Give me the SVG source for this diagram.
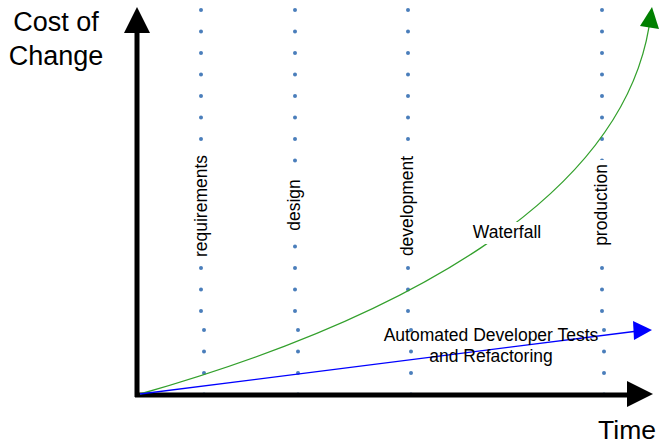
<svg xmlns="http://www.w3.org/2000/svg" width="660" height="445" viewBox="0 0 660 445">
<style>
text{font-family:"Liberation Sans",Arial,sans-serif;fill:#000}
.big{font-size:27px}
.lbl{font-size:17.5px}
.dots{stroke:#4a7ebb;stroke-width:4;stroke-linecap:round;stroke-dasharray:0 21.5;fill:none}
.bg{fill:#fff}
.axis{stroke:#000;stroke-width:5;fill:none}
</style>
<rect width="660" height="445" fill="#fff"/>
<g id="phase-lines">
<line class="dots" x1="201" y1="10" x2="201" y2="312"/>
<line class="dots" x1="204" y1="330" x2="204" y2="395"/>
<line class="dots" x1="295" y1="10" x2="295" y2="312"/>
<line class="dots" x1="298" y1="330" x2="298" y2="395"/>
<line class="dots" x1="408" y1="10" x2="408" y2="312"/>
<line class="dots" x1="411" y1="330" x2="411" y2="395"/>
<line class="dots" x1="602" y1="10" x2="602" y2="312"/>
<line class="dots" x1="604" y1="330" x2="604" y2="395"/>
</g>
<g id="axes">
<line class="axis" x1="137" y1="397" x2="137" y2="30"/>
<polygon points="124,33 150,33 137,7" fill="#000"/>
<line class="axis" x1="135" y1="395" x2="630" y2="395"/>
<polygon points="627,381 627,407 653,394" fill="#000"/>
</g>
<g id="connectors">
<path d="M140,394 C400,320 620,200 649,27" fill="none" stroke="#33a02c" stroke-width="1.3"/>
<polygon points="652,7 640,26 659,29" fill="#008000"/>
<line x1="140" y1="394" x2="634" y2="331.5" stroke="#0000ff" stroke-width="1.3"/>
<polygon points="652,330 633,321 634,340" fill="#0000ff"/>
</g>
<g id="label-cost">
<text class="big" x="56" y="31" text-anchor="middle">Cost of</text>
<text class="big" x="56" y="65" text-anchor="middle">Change</text>
</g>
<g id="label-time">
<text x="656" y="439" text-anchor="end" style="font-size:26.5px">Time</text>
</g>
<g id="phase-requirements">
<rect class="bg" x="194" y="153" width="16" height="106"/>
<text class="lbl" transform="translate(207,206) rotate(-90)" text-anchor="middle">requirements</text>
</g>
<g id="phase-design">
<rect class="bg" x="287" y="178" width="16" height="55"/>
<text class="lbl" transform="translate(300,205) rotate(-90)" text-anchor="middle">design</text>
</g>
<g id="phase-development">
<rect class="bg" x="400" y="153" width="16" height="106"/>
<text class="lbl" transform="translate(413,206) rotate(-90)" text-anchor="middle">development</text>
</g>
<g id="phase-production">
<rect class="bg" x="594" y="160" width="16" height="90"/>
<text class="lbl" transform="translate(607,205) rotate(-90)" text-anchor="middle">production</text>
</g>
<g id="label-waterfall">
<rect class="bg" x="470" y="222" width="75" height="22"/>
<text class="lbl" x="507" y="238" text-anchor="middle">Waterfall</text>
</g>
<g id="label-automated">
<text class="lbl" x="491" y="341" text-anchor="middle">Automated Developer Tests</text>
<text class="lbl" x="491" y="362" text-anchor="middle">and Refactoring</text>
</g>
</svg>
